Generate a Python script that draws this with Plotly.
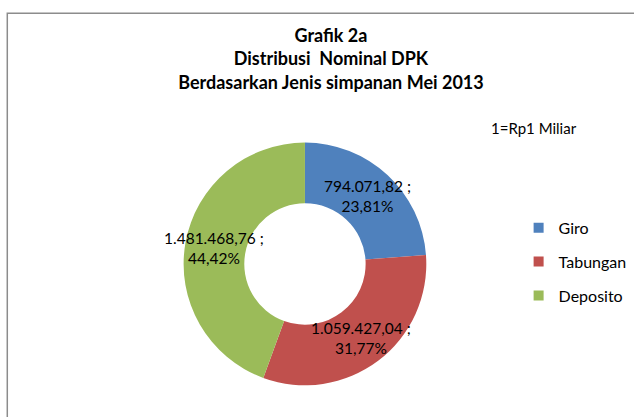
import math
import plotly.graph_objects as go

categories = ["Giro", "Tabungan", "Deposito"]
values = [794071.82, 1059427.04, 1481468.76]
colors = ["#4F81BD", "#C0504D", "#9BBB59"]

total = sum(values)

def fmt_id(v):
    s = f"{v:,.2f}"
    return s.replace(",", "X").replace(".", ",").replace("X", ".")

texts = [f"{fmt_id(v)} ;<br>{(f'{v / total * 100:.2f}').replace('.', ',')}%" for v in values]

FONT = "Lato, Calibri, 'Open Sans', sans-serif"
W, H = 634, 417
dom_x = [0.289, 0.673]
dom_y = [0.076, 0.658]

fig = go.Figure()
fig.add_trace(go.Pie(
    labels=categories, values=values,
    textinfo="none",
    marker=dict(colors=colors, line=dict(width=0)),
    hole=0.5, sort=False, direction="clockwise", rotation=0,
    showlegend=False,
    domain=dict(x=dom_x, y=dom_y),
))

for c, col in zip(categories, colors):
    fig.add_trace(go.Scatter(
        x=[None], y=[None], mode="markers", name=c, legendgroup=c,
        marker=dict(symbol="square", size=10, color=col),
    ))

# data labels placed at the middle of each ring segment (derived from values)
cx = (dom_x[0] + dom_x[1]) / 2 * W
cy = (dom_y[0] + dom_y[1]) / 2 * H
R = min((dom_x[1] - dom_x[0]) * W, (dom_y[1] - dom_y[0]) * H) / 2
rl = 0.76 * R
annotations = []
cum = 0.0
for v, t in zip(values, texts):
    mid = (cum + v / 2) / total * 2 * math.pi
    cum += v
    px = cx + rl * math.sin(mid)
    py = cy + rl * math.cos(mid)
    annotations.append(dict(
        text=t, x=px / W, y=py / H, xref="paper", yref="paper",
        xanchor="center", yanchor="middle", showarrow=False,
        font=dict(family=FONT, size=15.5, color="#000000"),
    ))

annotations.append(dict(
    text="1=Rp1 Miliar", x=489 / W, y=0.693, xref="paper", yref="paper",
    xanchor="left", yanchor="middle", showarrow=False,
    font=dict(family=FONT, size=15, color="#000000"),
))

fig.update_layout(
    width=W, height=H,
    margin=dict(l=0, r=0, t=0, b=0),
    paper_bgcolor="white", plot_bgcolor="white",
    xaxis=dict(visible=False), yaxis=dict(visible=False),
    title=dict(
        text="<b>Grafik 2a</b><br><b>Distribusi  Nominal DPK</b><br><b>Berdasarkan Jenis simpanan Mei 2013</b>",
        x=0.522, xanchor="center", y=0.9, yanchor="top",
        font=dict(family=FONT, size=18, color="#000000"),
    ),
    legend=dict(
        x=0.818, xanchor="left", y=0.372, yanchor="middle",
        font=dict(family=FONT, size=16, color="#000000"),
        tracegroupgap=10, itemwidth=30, bgcolor="rgba(0,0,0,0)",
    ),
    annotations=annotations,
    shapes=[dict(
        type="rect", xref="paper", yref="paper",
        x0=0.0115, x1=1.01, y0=-0.01, y1=0.968,
        line=dict(color="#8C8C8C", width=1.5), fillcolor="rgba(0,0,0,0)",
    )],
)

fig.write_html(
    "out.html",
    config={"displayModeBar": False},
    post_script="document.body.style.margin='0';document.body.style.overflow='hidden';",
)
